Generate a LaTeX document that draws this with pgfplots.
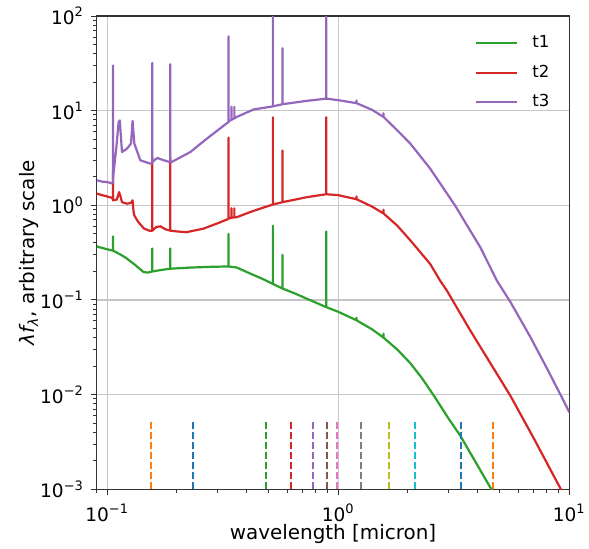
\documentclass[border=0pt]{standalone}
\usepackage{fontspec}
\setmainfont{DejaVu Sans}
\usepackage{pgfplots}
\pgfplotsset{compat=1.18}
\usetikzlibrary{calc}
\definecolor{tabblue}{HTML}{1F77B4}
\definecolor{taborange}{HTML}{FF7F0E}
\definecolor{tabgreen}{HTML}{2CA02C}
\definecolor{tabred}{HTML}{D62728}
\definecolor{tabpurple}{HTML}{9467BD}
\definecolor{tabbrown}{HTML}{8C564B}
\definecolor{tabpink}{HTML}{E377C2}
\definecolor{tabgray}{HTML}{7F7F7F}
\definecolor{tabolive}{HTML}{BCBD22}
\definecolor{tabcyan}{HTML}{17BECF}
\begin{document}
\begin{tikzpicture}
\begin{axis}[name=main,
  xmode=log, ymode=log,
  scale only axis, width=236.3bp, height=236.65bp,
  xmin=0.09, xmax=10, ymin=1e-3, ymax=1e2,
  xtick={0.1,1,10},
  xticklabels={10\textsuperscript{−1},10\textsuperscript{0},10\textsuperscript{1}},
  ytick={1e-3,1e-2,1e-1,1,10,100},
  yticklabels={10\textsuperscript{−3},10\textsuperscript{−2},10\textsuperscript{−1},10\textsuperscript{0},10\textsuperscript{1},10\textsuperscript{2}},
  minor xtick={0.09,0.2,0.3,0.4,0.5,0.6,0.7,0.8,0.9,2,3,4,5,6,7,8,9},
  minor ytick={0.002,0.003,0.004,0.005,0.006,0.007,0.008,0.009,0.02,0.03,0.04,0.05,0.06,0.07,0.08,0.09,0.2,0.3,0.4,0.5,0.6,0.7,0.8,0.9,2,3,4,5,6,7,8,9,20,30,40,50,60,70,80,90},
  xtick pos=left, ytick pos=left,
  tick align=outside,
  major tick length=2.9bp, minor tick length=1.7bp,
  tick style={black!80, line width=0.5bp},
  axis line style={black!80, line width=0.6bp},
  grid=major, major grid style={gray!45, line width=0.55bp},
  tick label style={font=\fontsize{9.3}{11}\selectfont},
  xticklabel style={yshift=-1bp},
  xlabel={wavelength [micron]},
  ylabel={\textit{λf\textsubscript{λ}}, arbitrary scale},
  every axis x label/.style={at={(axis description cs:0.5,-0.0951)}, anchor=center, font=\fontsize{10}{12}\selectfont},
  every axis y label/.style={at={(axis description cs:-0.1437,0.5)}, anchor=center, rotate=90, font=\fontsize{10}{12}\selectfont},
  legend style={draw=none, fill=none, at={(1,1)}, anchor=north east, xshift=-7.8bp, yshift=-7.7bp, inner sep=0pt, row sep=3.1bp, font=\fontsize{8.3}{10}\selectfont, /tikz/every odd column/.append style={column sep=5bp}},
  legend cell align=left,
  legend image code/.code={\draw[#1] (0bp,0bp) -- (20.6bp,0bp);},
  every axis plot/.append style={line width=1.1bp, line join=round},
  filt/.style={forget plot, line width=1bp, dash pattern=on 3.5bp off 1.5bp},
]
\addplot[tabgreen] table {
0.0900 0.370
0.0917 0.362
0.0950 0.355
0.1000 0.343
0.1048 0.334
0.1059 0.333
0.1059 0.47
0.1059 0.332
0.1138 0.303
0.1200 0.280
0.1300 0.242
0.1437 0.197
0.1500 0.195
0.1566 0.200
0.1566 0.35
0.1566 0.200
0.1700 0.207
0.1874 0.214
0.1874 0.35
0.1874 0.214
0.2287 0.220
0.2800 0.224
0.3350 0.226
0.3350 0.50
0.3350 0.226
0.3640 0.220
0.4160 0.190
0.4700 0.167
0.5210 0.148
0.5210 0.61
0.5210 0.148
0.5740 0.132
0.5740 0.30
0.5740 0.132
0.6500 0.117
0.7320 0.103
0.8870 0.084
0.8870 0.53
0.8870 0.084
1.000 0.075
1.200 0.061
1.200 0.065
1.200 0.061
1.400 0.049
1.570 0.040
1.570 0.044
1.570 0.040
1.800 0.030
2.050 0.0215
2.300 0.0150
2.590 0.0098
3.000 0.0056
3.370 0.0037
4.000 0.0018
4.600 0.0010
5.000 0.00069
};
\addlegendentry{t1}
\addplot[tabred] table {
0.0900 1.33
0.0950 1.28
0.1000 1.24
0.1048 1.20
0.1059 1.15
0.1059 2.2
0.1059 1.13
0.1100 1.15
0.1125 1.38
0.1140 1.25
0.1158 1.08
0.1218 1.04
0.1267 1.06
0.1287 1.13
0.1300 0.85
0.1310 0.78
0.1360 0.67
0.1440 0.57
0.1520 0.54
0.1566 0.54
0.1566 3.2
0.1566 0.54
0.1630 0.59
0.1700 0.60
0.1780 0.56
0.1874 0.54
0.1874 3.2
0.1874 0.54
0.2000 0.53
0.2200 0.52
0.2600 0.566
0.3000 0.645
0.3350 0.720
0.3350 5.2
0.3350 0.725
0.3450 0.74
0.3450 0.93
0.3450 0.74
0.3550 0.745
0.3550 0.93
0.3550 0.745
0.3640 0.75
0.4160 0.85
0.4700 0.94
0.5210 1.02
0.5210 8.5
0.5210 1.02
0.5740 1.08
0.5740 3.8
0.5740 1.08
0.7320 1.22
0.8870 1.31
0.8870 8.5
0.8870 1.31
1.000 1.28
1.200 1.16
1.200 1.24
1.200 1.16
1.400 0.97
1.570 0.82
1.570 0.90
1.570 0.82
1.800 0.61
2.050 0.427
2.500 0.24
2.760 0.16
2.950 0.126
3.300 0.079
3.720 0.048
4.500 0.0225
5.550 0.0098
7.000 0.0035
9.100 0.00105
10.00 0.00065
};
\addlegendentry{t2}
\addplot[tabpurple] table {
0.0900 1.84
0.0950 1.78
0.1000 1.76
0.1044 1.71
0.1059 1.75
0.1059 30
0.1059 1.9
0.1064 2.16
0.1094 4.0
0.1120 7.6
0.1133 7.9
0.1158 3.66
0.1218 3.98
0.1267 4.49
0.1287 7.8
0.1310 4.49
0.1390 2.99
0.1535 2.76
0.1566 2.78
0.1566 32
0.1566 2.85
0.1600 3.0
0.1650 3.16
0.1750 3.0
0.1874 2.85
0.1874 31
0.1874 2.87
0.1900 2.87
0.2290 3.66
0.2700 5.07
0.3350 7.6
0.3350 61
0.3350 7.7
0.3450 8.0
0.3450 11
0.3450 8.0
0.3550 8.3
0.3550 11
0.3550 8.3
0.3640 8.6
0.4300 10.3
0.5210 11.1
0.5210 150
0.5210 11.1
0.5740 11.7
0.5740 45.7
0.5740 11.7
0.7320 12.7
0.8870 13.4
0.8870 150
0.8870 13.4
1.000 12.9
1.200 12.0
1.200 12.8
1.200 12.0
1.400 10.2
1.570 8.58
1.570 9.4
1.570 8.58
1.800 6.2
2.050 4.49
2.500 2.44
2.800 1.62
3.200 1.00
3.600 0.62
4.120 0.36
4.860 0.16
5.550 0.096
6.770 0.041
8.000 0.019
9.450 0.0086
10.00 0.0065
};
\addlegendentry{t3}
\addplot[taborange, filt] coordinates {(0.155,1e-3) (0.155,5.1e-3)};
\addplot[tabblue, filt] coordinates {(0.234,1e-3) (0.234,5.1e-3)};
\addplot[tabgreen, filt] coordinates {(0.488,1e-3) (0.488,5.1e-3)};
\addplot[tabred, filt] coordinates {(0.626,1e-3) (0.626,5.1e-3)};
\addplot[tabpurple, filt] coordinates {(0.78,1e-3) (0.78,5.1e-3)};
\addplot[tabbrown, filt] coordinates {(0.89,1e-3) (0.89,5.1e-3)};
\addplot[tabpink, filt] coordinates {(0.987,1e-3) (0.987,5.1e-3)};
\addplot[tabgray, filt] coordinates {(1.26,1e-3) (1.26,5.1e-3)};
\addplot[tabolive, filt] coordinates {(1.66,1e-3) (1.66,5.1e-3)};
\addplot[tabcyan, filt] coordinates {(2.15,1e-3) (2.15,5.1e-3)};
\addplot[tabblue, filt] coordinates {(3.4,1e-3) (3.4,5.1e-3)};
\addplot[taborange, filt] coordinates {(4.67,1e-3) (4.67,5.1e-3)};
\end{axis}
\pgfresetboundingbox
\path ($(main.south west)+(-48.35bp,-29.85bp)$) rectangle ($(main.north east)+(9.85bp,8bp)$);
\end{tikzpicture}
\end{document}
